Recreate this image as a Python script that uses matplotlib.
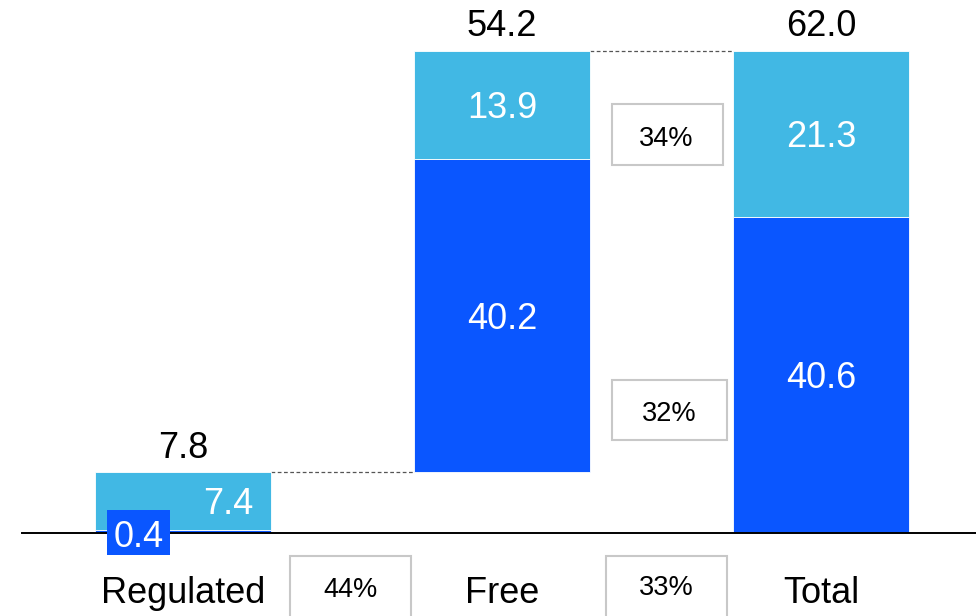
import matplotlib
matplotlib.use("Agg")
import matplotlib.pyplot as plt
from matplotlib.patches import Rectangle

plt.rcParams['font.family'] = ['Liberation Sans', 'DejaVu Sans']

# ---- data ----
categories = ["Regulated", "Free", "Total"]
dark_values = [0.4, 40.2, 40.6]
light_values = [7.4, 13.9, 21.3]
totals = [7.8, 54.2, 62.0]
pct_labels = ["44%", "33%", "34%", "32%"]

DARK = "#0A56FF"
LIGHT = "#41B8E4"

W, H = 976, 616
fig = plt.figure(figsize=(W / 100, H / 100), dpi=100)
ax = fig.add_axes([0, 0, 1, 1])

xs_px = 319.0
x0_px = 183.0
base_px = 533.0
ys_px = 482.0 / 61.9

ax.set_xlim(-x0_px / xs_px, (W - x0_px) / xs_px)
ax.set_ylim(-(H - base_px) / ys_px, base_px / ys_px)
ax.axis("off")

def px2x(px):
    return (px - x0_px) / xs_px

def px2y(py):
    return (base_px - py) / ys_px

width = 176 / xs_px
x = [0, 1, 2]
bottoms = [0, dark_values[0] + light_values[0], 0]
ax.bar(x, dark_values, width, bottom=bottoms, color=DARK, edgecolor="white", linewidth=0.6, zorder=2)
light_bottoms = [b + d for b, d in zip(bottoms, dark_values)]
ax.bar(x, light_values, width, bottom=light_bottoms, color=LIGHT, edgecolor="white", linewidth=0.6, zorder=2)

# axis line
ax.plot([px2x(22), px2x(W)], [0, 0], color="black", lw=1.4, zorder=3)

# connectors
ax.plot([x[0] + width / 2, x[1] - width / 2], [totals[0], totals[0]], color="#555555", lw=0.9,
        ls=(0, (3, 2)), zorder=1)
top_free = bottoms[1] + dark_values[1] + light_values[1]
ax.plot([x[1] + width / 2, x[2] - width / 2], [top_free, top_free], color="#555555", lw=0.9,
        ls=(0, (3, 2)), zorder=1)

FS = 26
half = 13 / ys_px  # baseline offset below visual center
# segment labels
for i in [1, 2]:
    ax.text(x[i], bottoms[i] + dark_values[i] / 2 - half, f"{dark_values[i]:.1f}", ha="center",
            va="baseline", color="white", fontsize=FS, zorder=4)
    ax.text(x[i], light_bottoms[i] + light_values[i] / 2 - half, f"{light_values[i]:.1f}", ha="center",
            va="baseline", color="white", fontsize=FS, zorder=4)
# regulated labels
ax.text(x[0] + 45 / xs_px, light_bottoms[0] + light_values[0] / 2 - half, f"{light_values[0]:.1f}",
        ha="center", va="baseline", color="white", fontsize=FS, zorder=4)
ax.add_patch(Rectangle((px2x(107), px2y(555)), px2x(170) - px2x(107), px2y(510) - px2y(555),
                       facecolor=DARK, edgecolor="none", zorder=5))
ax.text(px2x(138.5), px2y(547), f"{dark_values[0]:.1f}", ha="center", va="baseline", color="white",
        fontsize=FS, zorder=6)

# totals
tops = [light_bottoms[i] + light_values[i] for i in range(3)]
for i in range(3):
    ax.text(x[i], tops[i] + 14.5 / ys_px, f"{totals[i]:.1f}", ha="center", va="baseline", color="black",
            fontsize=FS, zorder=4)

# category labels
for i in range(3):
    ax.text(x[i], px2y(603), categories[i], ha="center", va="baseline", color="black", fontsize=FS)

# percentage boxes (left, top, right, bottom in px; text center x, baseline y)
boxes = [(290, 556, 411, 618, 350.5, 597),
         (606, 556, 727, 618, 666, 595),
         (612, 104, 723, 165, 666.5, 146),
         (612, 380, 727, 440, 669.5, 421)]
for lab, (l, t, r, b, cx, by) in zip(pct_labels, boxes):
    ax.add_patch(Rectangle((px2x(l), px2y(b)), px2x(r) - px2x(l), px2y(t) - px2y(b),
                           facecolor="white", edgecolor="#C8C8C8", lw=1.5, zorder=3, clip_on=False))
    ax.text(px2x(cx), px2y(by), lab, ha="center", va="baseline", fontsize=19.5, color="black", zorder=4)

fig.savefig("out.png", dpi=100)
